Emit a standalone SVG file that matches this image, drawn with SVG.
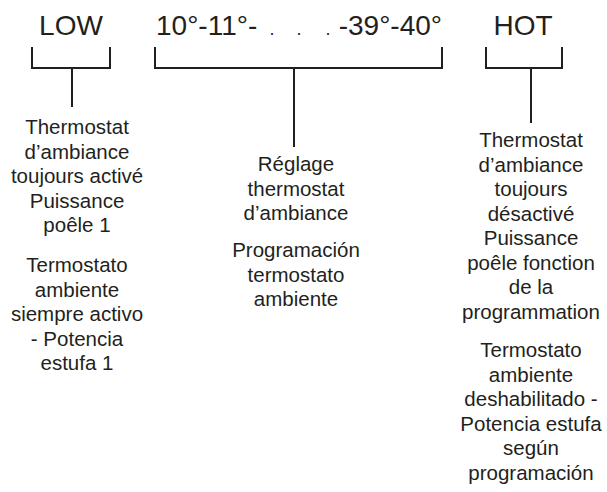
<svg xmlns="http://www.w3.org/2000/svg" width="607" height="492" viewBox="0 0 607 492">
<style>
.big{font-family:"Liberation Sans",Arial,sans-serif;font-size:28px;fill:#231f20}
.dot{font-size:18px}
.t{font-family:"Liberation Sans",Arial,sans-serif;font-size:20.5px;fill:#231f20;text-anchor:middle}
.ln{fill:none;stroke:#231f20;stroke-width:2}
</style>
<rect width="607" height="492" fill="#fff"/>
<g id="low"><text class="big" x="71" y="35" text-anchor="middle">LOW</text></g>
<g id="range"><text class="big" y="35"><tspan x="156">10°-11°-</tspan><tspan class="dot" x="269.5">.</tspan><tspan class="dot" x="296.5">.</tspan><tspan class="dot" x="325.5">.</tspan><tspan x="442" text-anchor="end">-39°-40°</tspan></text></g>
<g id="hot"><text class="big" x="523" y="35" text-anchor="middle">HOT</text></g>
<g id="connectors">
<path class="ln" d="M32 47V68H110V47M72 68V107"/>
<path class="ln" d="M155 47V68H442V47M294 68V147"/>
<path class="ln" d="M486 47V68H562V47M531 68V123"/>
</g>
<g id="desc-low">
<text class="t" x="77" y="134">Thermostat</text>
<text class="t" x="77" y="158.5">d’ambiance</text>
<text class="t" x="77" y="183">toujours activé</text>
<text class="t" x="77" y="207.5">Puissance</text>
<text class="t" x="77" y="232">poêle 1</text>
<text class="t" x="77" y="272">Termostato</text>
<text class="t" x="77" y="296.5">ambiente</text>
<text class="t" x="77" y="321">siempre activo</text>
<text class="t" x="77" y="345.5">- Potencia</text>
<text class="t" x="77" y="370">estufa 1</text>
</g>
<g id="desc-range">
<text class="t" x="296" y="171">Réglage</text>
<text class="t" x="296" y="195.5">thermostat</text>
<text class="t" x="296" y="220">d’ambiance</text>
<text class="t" x="296" y="257">Programación</text>
<text class="t" x="296" y="281.5">termostato</text>
<text class="t" x="296" y="306">ambiente</text>
</g>
<g id="desc-hot">
<text class="t" x="531" y="147">Thermostat</text>
<text class="t" x="531" y="171.5">d’ambiance</text>
<text class="t" x="531" y="196">toujours</text>
<text class="t" x="531" y="220.5">désactivé</text>
<text class="t" x="531" y="245">Puissance</text>
<text class="t" x="531" y="269.5">poêle fonction</text>
<text class="t" x="531" y="294">de la</text>
<text class="t" x="531" y="318.5">programmation</text>
<text class="t" x="531" y="357">Termostato</text>
<text class="t" x="531" y="381.5">ambiente</text>
<text class="t" x="531" y="406">deshabilitado -</text>
<text class="t" x="531" y="430.5">Potencia estufa</text>
<text class="t" x="531" y="455">según</text>
<text class="t" x="531" y="479.5">programación</text>
</g>
</svg>
